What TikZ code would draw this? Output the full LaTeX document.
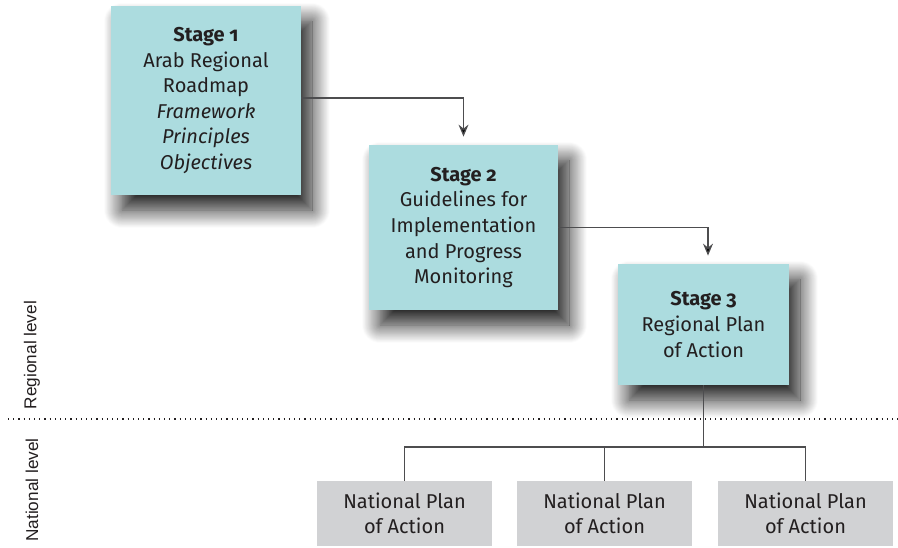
\documentclass[tikz,border=0pt]{standalone}
\usepackage{fontspec}
\setmainfont{Fira Sans}[Numbers=OldStyle]
\newfontfamily\sidefont{Liberation Sans}
\usepackage{tikz}
\usetikzlibrary{arrows.meta,shadows.blur}

\definecolor{stagefill}{HTML}{ACDCDF}
\definecolor{natfill}{HTML}{D1D2D4}
\definecolor{inkgray}{HTML}{231F20}
\definecolor{linegray}{HTML}{4D4D4F}

\tikzset{
    stagebox/.style={fill=stagefill, align=center, inner sep=0pt, text=inkgray,
        font=\fontsize{10}{12.8}\selectfont, execute at begin node={\rule{0pt}{13pt}},
        blur shadow={shadow xshift=5.5pt, shadow yshift=-7.5pt, shadow blur radius=9pt, shadow blur steps=20, shadow opacity=90}},
    natbox/.style={fill=natfill, align=center, inner sep=0pt, text=inkgray,
        minimum width=87.5pt, minimum height=32.5pt,
        font=\fontsize{10}{12.8}\selectfont},
    link/.style={draw=linegray, line width=0.65pt},
    arrow/.style={link, -{Stealth[length=6pt,width=5pt,inset=2pt,fill=black]}, shorten >=4pt},
    levellabel/.style={rotate=90, font=\sidefont\fontsize{8.6}{10}\selectfont, text=inkgray}
}

\begin{document}
\begin{tikzpicture}[x=0.5pt,y=-0.5pt]
    \useasboundingbox (0,0) rectangle (898,547);

    % stages
    \node[stagebox, minimum width=95pt, minimum height=94.5pt] (stage1) at (206,100.5)
        {\textbf{Stage 1}\\Arab Regional\\Roadmap\\\textit{Framework}\\\textit{Principles}\\\textit{Objectives}};
    \node[stagebox, minimum width=94.5pt, minimum height=82.5pt] (stage2) at (463.5,227.5)
        {\textbf{Stage 2}\\Guidelines for\\Implementation\\and Progress\\Monitoring};
    \node[stagebox, minimum width=85.5pt, minimum height=60.5pt] (stage3) at (703.5,324.5)
        {\textbf{Stage 3}\\Regional Plan\\of Action};

    % national plans
    \node[natbox] (nat1) at (404.5,513.5) {National Plan\\of Action};
    \node[natbox] (nat2) at (604.5,513.5) {National Plan\\of Action};
    \node[natbox] (nat3) at (805.5,513.5) {National Plan\\of Action};

    % levels
    \draw[dotted, line width=0.6pt, inkgray] (8,419) -- (898,419);
    \node[levellabel] (regional) at (32,355) {Regional level};
    \node[levellabel] (national) at (32,490) {National level};

    % connectors
    \draw[arrow] (stage1.east |- 0,98) -| (stage2.north);
    \draw[arrow] (stage2.east) -| ([xshift=2.25pt]stage3.north);
    \coordinate (split) at (703.5,447);
    \draw[link] (stage3.south) -- (split);
    \draw[link] (nat1.north) |- (split) -| (nat3.north);
    \draw[link] (nat2.north) -- (nat2.north |- split);
\end{tikzpicture}
\end{document}
